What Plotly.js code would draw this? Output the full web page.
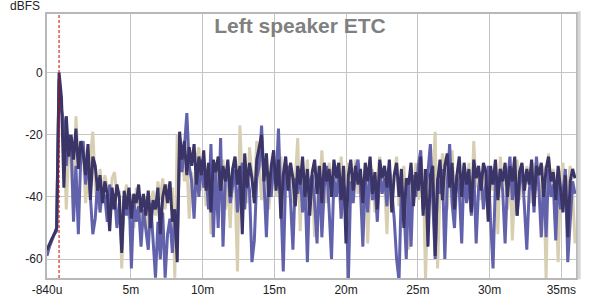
<!DOCTYPE html>
<html>
<head>
<meta charset="utf-8">
<script src="https://cdn.plot.ly/plotly-3.0.1.min.js"></script>
<style>
html,body{margin:0;padding:0;background:#fff;}
#chart{width:600px;height:301px;}
</style>
</head>
<body>
<div id="chart"></div>
<script>
// time axis: first sample time and sample step (ms)
const startTime = -0.84;
const timeStep = 0.168;
const impulseTime = 0;

const xTickVals = [-0.84, 5, 10, 15, 20, 25, 30, 35];
const xTickText = ["-840u", "5m", "10m", "15m", "20m", "25m", "30m", "35ms"];
const yTickVals = [0, -20, -40, -60];
const yTickText = ["0", "-20", "-40", "-60"];

// tan series (drawn underneath)
const seriesTan = [
  -58,-56,-54,-52,-50,-3,-10,-20,-44,-25,
  -28,-46,-14,-30,-24,-25,-42,-33,-27,-19,
  -36,-44,-31,-40,-33,-37,-45,-34,-32,-40,
  -38,-63,-41,-36,-47,-39,-50,-37,-43,-46,
  -48,-40,-52,-43,-38,-46,-35,-41,-34,-44,
  -36,-42,-37,-66,-20,-30,-26,-35,-29,-47,
  -32,-40,-28,-24,-38,-31,-43,-29,-52,-34,
  -30,-39,-33,-28,-44,-36,-50,-31,-37,-64,
  -17,-35,-30,-42,-24,-33,-38,-22,-29,-41,
  -31,-26,-44,-35,-29,-40,-33,-27,-46,-30,
  -36,-29,-42,-34,-21,-51,-31,-38,-28,-43,
  -34,-53,-30,-39,-25,-37,-42,-29,-35,-31,
  -30,-38,-27,-44,-33,-29,-41,-35,-28,-39,
  -33,-40,-30,-55,-36,-31,-45,-34,-27,-38,
  -35,-52,-31,-40,-34,-27,-43,-36,-30,-45,
  -57,-33,-38,-29,-41,-35,-31,-67,-36,-30,
  -34,-19,-63,-38,-26,-31,-44,-28,-25,-40,
  -36,-30,-42,-33,-39,-29,-45,-22,-37,-32,
  -41,-30,-35,-47,-31,-38,-29,-52,-27,-36,
  -33,-44,-30,-54,-37,-28,-41,-32,-39,-30,
  -35,-42,-29,-38,-33,-45,-30,-67,-26,-37,
  -31,-40,-61,-34,-29,-43,-36,-30,-38,-55
];

// medium blue series
const seriesBlue = [
  -59,-56,-54,-52,-51,-2,-12,-16,-30,-20,
  -22,-48,-30,-52,-27,-22,-36,-28,-40,-52,
  -47,-35,-45,-38,-40,-48,-36,-44,-39,-50,
  -42,-57,-40,-46,-38,-63,-41,-48,-43,-56,
  -44,-50,-57,-42,-53,-66,-48,-60,-45,-66,
  -52,-47,-58,-45,-55,-25,-32,-24,-13,-30,
  -35,-47,-30,-40,-28,-37,-33,-44,-23,-53,
  -32,-50,-21,-56,-34,-30,-42,-36,-31,-45,
  -35,-29,-44,-33,-38,-61,-54,-34,-30,-17,
  -38,-53,-32,-40,-29,-36,-18,-43,-64,-33,
  -30,-41,-57,-34,-39,-31,-45,-36,-61,-35,
  -33,-42,-55,-31,-53,-37,-30,-44,-60,-34,
  -40,-32,-47,-36,-38,-67,-35,-42,-31,-28,
  -37,-56,-33,-45,-30,-41,-36,-48,-32,-39,
  -34,-43,-31,-38,-47,-60,-67,-36,-42,-60,
  -35,-56,-33,-40,-30,-25,-44,-37,-32,-23,
  -41,-60,-34,-39,-31,-60,-36,-23,-42,-50,
  -33,-38,-55,-30,-42,-35,-46,-31,-55,-37,
  -32,-44,-36,-30,-48,-63,-34,-40,-31,-38,
  -55,-35,-27,-41,-33,-46,-36,-30,-43,-57,
  -38,-32,-45,-27,-37,-53,-34,-53,-31,-40,
  -36,-54,-33,-44,-38,-31,-61,-47,-35,-39
];

// dark navy series (drawn on top)
const seriesDark = [
  -57,-55,-53.5,-52,-50,0,-8,-37,-14,-27,
  -20,-28,-18,-31,-22,-26,-33,-23,-41,-27,
  -30,-38,-33,-42,-35,-39,-51,-37,-44,-36,
  -40,-58,-38,-44,-37,-47,-39,-42,-36,-45,
  -39,-46,-38,-50,-41,-44,-37,-52,-40,-36,
  -42,-35,-48,-44,-61,-19,-28,-22,-33,-24,
  -30,-23,-36,-27,-33,-25,-38,-29,-45,-28,
  -32,-27,-38,-30,-35,-28,-40,-31,-27,-36,
  -30,-52,-26,-37,-29,-34,-42,-28,-24,-20,
  -35,-26,-40,-30,-25,-38,-28,-47,-33,-27,
  -38,-29,-34,-43,-30,-36,-27,-40,-31,-46,
  -32,-28,-39,-30,-42,-29,-35,-31,-40,-28,
  -34,-29,-41,-30,-55,-33,-28,-38,-30,-36,
  -31,-42,-29,-35,-27,-39,-32,-44,-28,-34,
  -30,-37,-28,-45,-33,-29,-40,-31,-50,-34,
  -36,-29,-43,-32,-38,-27,-46,-31,-56,-33,
  -30,-59,-35,-28,-41,-30,-26,-37,-29,-44,
  -33,-27,-40,-29,-36,-31,-45,-28,-34,-30,
  -38,-29,-32,-48,-30,-36,-28,-41,-31,-35,
  -29,-40,-30,-35,-27,-46,-32,-29,-38,-31,
  -36,-28,-43,-30,-33,-29,-40,-31,-27,-35,
  -32,-41,-30,-37,-45,-33,-53,-35,-31,-34
];

function trace(vals, color) {
  return {
    type: 'scatter', mode: 'lines',
    x0: startTime, dx: timeStep, y: vals,
    line: {color: color, width: 3},
    hoverinfo: 'skip', showlegend: false
  };
}

const data = [
  trace(seriesTan, '#d8cfb2'),
  trace(seriesBlue, '#6262ac'),
  trace(seriesDark, '#3b3567')
];

const layout = {
  width: 600, height: 301,
  margin: {l: 47, r: 24, t: 14, b: 23},
  paper_bgcolor: '#ffffff', plot_bgcolor: '#ffffff',
  font: {family: 'Liberation Sans, Arial, sans-serif', size: 12, color: '#222'},
  title: {
    text: 'Left speaker ETC',
    font: {family: 'Liberation Sans, Arial, sans-serif', size: 21, color: '#808080', weight: 'bold'},
    x: 0.5, xref: 'container', xanchor: 'center',
    y: 1 - 26/301, yref: 'container', yanchor: 'middle'
  },
  xaxis: {
    range: [-0.84, 36.02], tickmode: 'array', tickvals: xTickVals, ticktext: xTickText,
    showgrid: true, gridcolor: '#c4c4c4', gridwidth: 1, zeroline: false,
    showline: true, mirror: true, linecolor: '#b8b8b8', linewidth: 2,
    ticks: '', tickfont: {size: 12, color: '#222'}, fixedrange: true
  },
  yaxis: {
    range: [-66.1, 18.9], tickmode: 'array', tickvals: yTickVals, ticktext: yTickText,
    showgrid: true, gridcolor: '#c4c4c4', gridwidth: 1, zeroline: false,
    showline: true, mirror: true, linecolor: '#b8b8b8', linewidth: 2,
    ticks: '', tickfont: {size: 12, color: '#222'}, fixedrange: true
  },
  shapes: [
    {type: 'line', xref: 'x', yref: 'paper', x0: impulseTime, x1: impulseTime, y0: 0, y1: 1,
     line: {color: '#cc0000', width: 1, dash: '3px,2px'}},
    {type: 'line', xref: 'paper', yref: 'paper', x0: 1.006, x1: 1.006, y0: -0.005, y1: 1.01,
     line: {color: '#d6d6d6', width: 3}}
  ],
  annotations: [
    {text: 'dBFS', xref: 'paper', yref: 'paper', x: 0, y: 1, xanchor: 'right', yanchor: 'bottom',
     xshift: -5, yshift: -1, showarrow: false, font: {size: 12, color: '#222'}}
  ]
};

Plotly.newPlot('chart', data, layout, {displayModeBar: false, staticPlot: true});
</script>
</body>
</html>
